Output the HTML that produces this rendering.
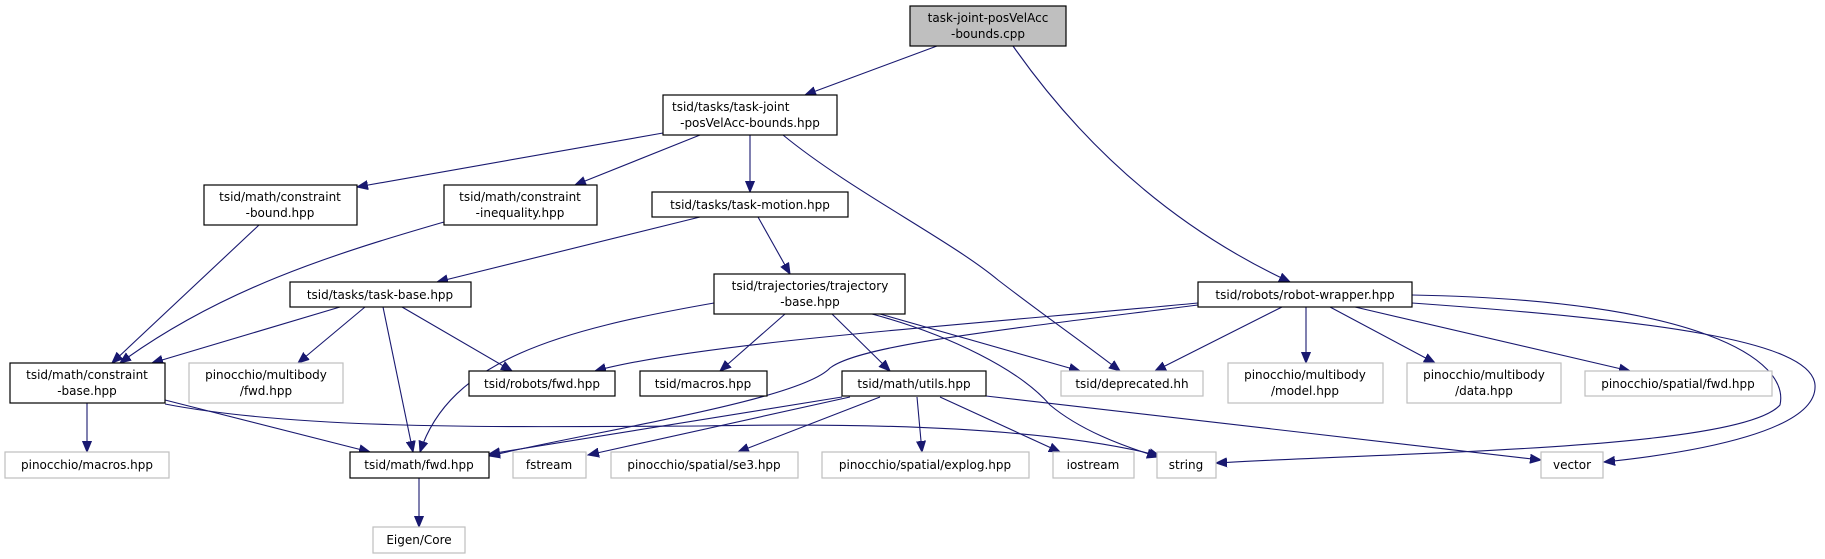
<!DOCTYPE html>
<html><head><meta charset="utf-8"><style>
html,body{margin:0;padding:0;background:#fff;}
svg{display:block;}
text{font-family:"DejaVu Sans","Liberation Sans",sans-serif;font-size:12px;fill:#000;}
.b{fill:#fff;stroke:#000;stroke-width:1.2}
.g{fill:#fff;stroke:#bfbfbf;stroke-width:1.2}
.e{fill:none;stroke:#191970;stroke-width:1.1}
</style></head><body>
<svg width="1825" height="559" viewBox="0 0 1825 559" xmlns="http://www.w3.org/2000/svg">
<defs>
<marker id="a" markerUnits="userSpaceOnUse" markerWidth="12" markerHeight="10" refX="11" refY="5" orient="auto">
<path d="M0,0.5 L11,5 L0,9.5 z" fill="#191970" stroke="#191970"/>
</marker>
</defs>
<g marker-end="url(#a)">
<path class="e" d="M937,46 L805,95"/>
<path class="e" d="M1013,46 C1100,170 1200,240 1290,282"/>
<path class="e" d="M663,133 L357,187"/>
<path class="e" d="M700,135 L575,185"/>
<path class="e" d="M750,135 L750,192"/>
<path class="e" d="M783,135 C850,190 950,240 998,280 C1050,320 1080,340 1120,371"/>
<path class="e" d="M259,225 L112,363"/>
<path class="e" d="M444,222 C330,255 220,290 120,363"/>
<path class="e" d="M700,217 L437,282"/>
<path class="e" d="M758,217 L790,274"/>
<path class="e" d="M340,307 L152,363"/>
<path class="e" d="M365,307 L298,363"/>
<path class="e" d="M383,307 L413,452"/>
<path class="e" d="M402,307 L512,371"/>
<path class="e" d="M714,303 C560,330 450,360 420,452"/>
<path class="e" d="M785,314 L720,371"/>
<path class="e" d="M832,314 L890,371"/>
<path class="e" d="M880,314 L1080,371"/>
<path class="e" d="M872,314 C950,335 1020,370 1050,405 C1080,430 1120,445 1158,457"/>
<path class="e" d="M1198,303 C1000,322 700,342 595,371"/>
<path class="e" d="M1198,305 C1000,330 860,345 830,368 C800,400 600,430 489,456"/>
<path class="e" d="M1282,307 L1155,371"/>
<path class="e" d="M1306,307 L1306,363"/>
<path class="e" d="M1330,307 L1435,363"/>
<path class="e" d="M1355,307 L1630,371"/>
<path class="e" d="M1412,295 C1700,300 1790,360 1780,405 C1740,450 1400,452 1216,463"/>
<path class="e" d="M1412,303 C1650,320 1812,340 1815,385 C1818,430 1700,452 1604,462"/>
<path class="e" d="M87,403 L87,452"/>
<path class="e" d="M165,400 L370,452"/>
<path class="e" d="M165,404 C300,430 500,427 700,426 C900,422 1060,430 1160,456"/>
<path class="e" d="M842,397 L489,454"/>
<path class="e" d="M850,397 L588,455"/>
<path class="e" d="M880,397 L738,452"/>
<path class="e" d="M917,397 L922,452"/>
<path class="e" d="M940,397 L1060,452"/>
<path class="e" d="M986,396 L1541,460"/>
<path class="e" d="M419,478 L419,527"/>
</g>

<rect x="910" y="6" width="156" height="40" fill="#bfbfbf" stroke="#000" stroke-width="1.2"/>
<text x="988" y="22" text-anchor="middle">task-joint-posVelAcc</text>
<text x="988" y="38" text-anchor="middle">-bounds.cpp</text>

<rect class="b" x="663" y="95" width="174" height="40"/>
<text x="672" y="111">tsid/tasks/task-joint</text>
<text x="750" y="127" text-anchor="middle">-posVelAcc-bounds.hpp</text>

<rect class="b" x="204" y="185" width="153" height="40"/>
<text x="280" y="201" text-anchor="middle">tsid/math/constraint</text>
<text x="280" y="217" text-anchor="middle">-bound.hpp</text>

<rect class="b" x="444" y="185" width="153" height="40"/>
<text x="520" y="201" text-anchor="middle">tsid/math/constraint</text>
<text x="520" y="217" text-anchor="middle">-inequality.hpp</text>

<rect class="b" x="652" y="192" width="196" height="25"/>
<text x="750" y="209" text-anchor="middle">tsid/tasks/task-motion.hpp</text>

<rect class="b" x="714" y="274" width="191" height="40"/>
<text x="810" y="290" text-anchor="middle">tsid/trajectories/trajectory</text>
<text x="810" y="306" text-anchor="middle">-base.hpp</text>

<rect class="b" x="290" y="282" width="181" height="25"/>
<text x="380" y="299" text-anchor="middle">tsid/tasks/task-base.hpp</text>

<rect class="b" x="1198" y="282" width="214" height="25"/>
<text x="1305" y="299" text-anchor="middle">tsid/robots/robot-wrapper.hpp</text>

<rect class="b" x="10" y="363" width="155" height="40"/>
<text x="87" y="379" text-anchor="middle">tsid/math/constraint</text>
<text x="87" y="395" text-anchor="middle">-base.hpp</text>

<rect class="g" x="189" y="363" width="154" height="40"/>
<text x="266" y="379" text-anchor="middle">pinocchio/multibody</text>
<text x="266" y="395" text-anchor="middle">/fwd.hpp</text>

<rect class="b" x="469" y="371" width="146" height="25"/>
<text x="542" y="388" text-anchor="middle">tsid/robots/fwd.hpp</text>

<rect class="b" x="640" y="371" width="127" height="25"/>
<text x="703" y="388" text-anchor="middle">tsid/macros.hpp</text>

<rect class="b" x="842" y="371" width="144" height="25"/>
<text x="914" y="388" text-anchor="middle">tsid/math/utils.hpp</text>

<rect class="g" x="1061" y="371" width="142" height="25"/>
<text x="1132" y="388" text-anchor="middle">tsid/deprecated.hh</text>

<rect class="g" x="1228" y="363" width="155" height="40"/>
<text x="1305" y="379" text-anchor="middle">pinocchio/multibody</text>
<text x="1305" y="395" text-anchor="middle">/model.hpp</text>

<rect class="g" x="1407" y="363" width="154" height="40"/>
<text x="1484" y="379" text-anchor="middle">pinocchio/multibody</text>
<text x="1484" y="395" text-anchor="middle">/data.hpp</text>

<rect class="g" x="1585" y="371" width="187" height="25"/>
<text x="1678" y="388" text-anchor="middle">pinocchio/spatial/fwd.hpp</text>

<rect class="g" x="5" y="452" width="164" height="26"/>
<text x="87" y="469" text-anchor="middle">pinocchio/macros.hpp</text>

<rect class="b" x="350" y="452" width="139" height="26"/>
<text x="419" y="469" text-anchor="middle">tsid/math/fwd.hpp</text>

<rect class="g" x="513" y="452" width="73" height="26"/>
<text x="549" y="469" text-anchor="middle">fstream</text>

<rect class="g" x="611" y="452" width="187" height="26"/>
<text x="704" y="469" text-anchor="middle">pinocchio/spatial/se3.hpp</text>

<rect class="g" x="822" y="452" width="207" height="26"/>
<text x="925" y="469" text-anchor="middle">pinocchio/spatial/explog.hpp</text>

<rect class="g" x="1053" y="452" width="81" height="26"/>
<text x="1093" y="469" text-anchor="middle">iostream</text>

<rect class="g" x="1157" y="452" width="59" height="26"/>
<text x="1186" y="469" text-anchor="middle">string</text>

<rect class="g" x="1541" y="452" width="62" height="26"/>
<text x="1572" y="469" text-anchor="middle">vector</text>

<rect class="g" x="373" y="527" width="92" height="26"/>
<text x="419" y="544" text-anchor="middle">Eigen/Core</text>
</svg>
</body></html>
